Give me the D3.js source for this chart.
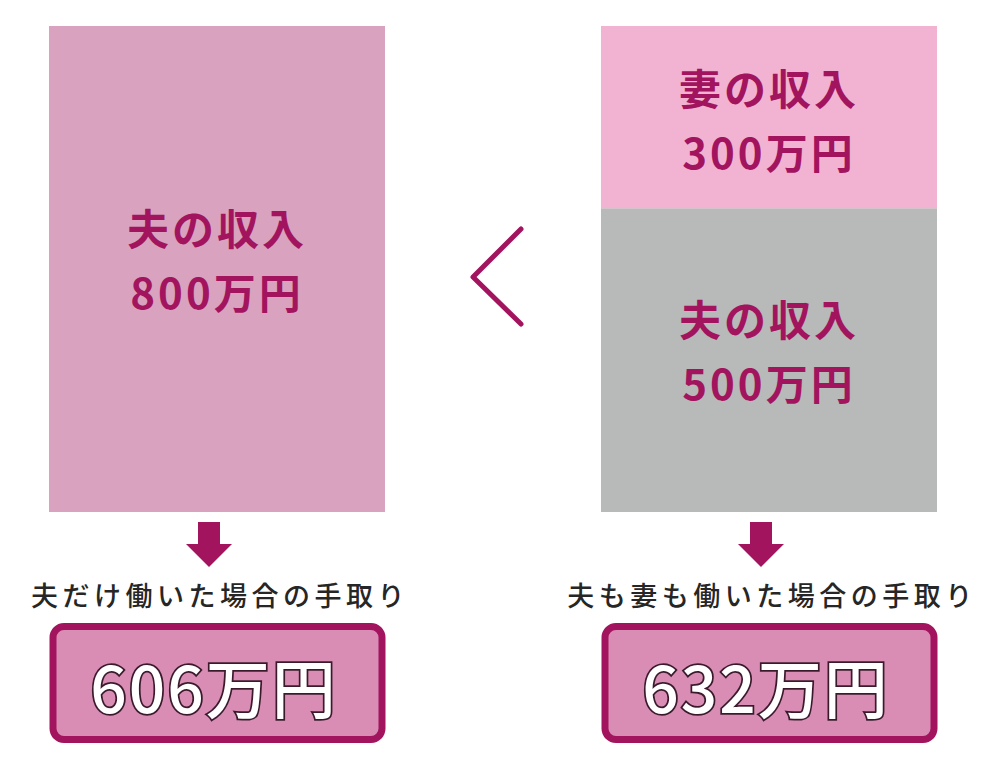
<!DOCTYPE html>
<html lang="ja">
<head>
<meta charset="UTF-8">
<title>手取り比較</title>
<script src="https://d3js.org/d3.v7.min.js"></script>
<style>
  body { margin: 0; background: #fff; }
  svg { display: block; font-family: "Noto Sans CJK JP", "Noto Sans", sans-serif; }
  .seg-label { fill: #a3145f; font-weight: 700; font-size: 42px; text-anchor: middle; letter-spacing: 3px; }
  .caption { fill: #262626; font-weight: 500; font-size: 27px; text-anchor: middle; letter-spacing: 4.5px; }
  .total { fill: #fff; stroke: #3b1a2c; stroke-width: 3.5px; paint-order: stroke; font-weight: 500; font-size: 64px; text-anchor: middle; letter-spacing: 2px; }
</style>
</head>
<body>
<svg width="989" height="765"></svg>
<script>
// data
const cases = ["夫だけ", "夫も妻も"];
const husbandIncome = [800, 500];
const wifeIncome = [0, 300];
const captions = ["夫だけ働いた場合の手取り", "夫も妻も働いた場合の手取り"];
const takeHome = [606, 632];

const svg = d3.select("svg");
const magenta = "#a3145f";

const rows = cases.map((c, i) => ({ key: c, husband: husbandIncome[i], wife: wifeIncome[i] }));
const stacked = d3.stack().keys(["husband", "wife"])(rows);

const x = d3.scaleBand().domain(cases).range([49, 937]).paddingInner(0.3913).paddingOuter(0);
const y = d3.scaleLinear().domain([0, 800]).range([512, 26]);

const fills = {
  husband: (d, i) => i === 0 ? "#d9a3bf" : "#b8b9b9",
  wife: () => "#f2b3d3"
};
const who = { husband: "夫の収入", wife: "妻の収入" };

stacked.forEach(layer => {
  const g = svg.append("g");
  layer.forEach((d, i) => {
    if (d[1] - d[0] <= 0) return;
    const x0 = x(d.data.key), bw = x.bandwidth();
    g.append("rect")
      .attr("x", x0).attr("y", y(d[1]))
      .attr("width", bw).attr("height", y(d[0]) - y(d[1]))
      .attr("fill", fills[layer.key](d, i));
    // label block sits a bit above the segment middle on the tall bars
    const mid = (y(d[0]) + y(d[1])) / 2 - (d[1] - d[0] >= 500 ? 12 : 0);
    const cx = x0 + bw / 2;
    g.append("text").attr("class", "seg-label")
      .attr("x", cx).attr("y", mid - 12)
      .text(who[layer.key]);
    g.append("text").attr("class", "seg-label")
      .attr("x", cx).attr("y", mid + 52)
      .text(d[1] - d[0] + "万円");
  });
});

// "<" between the bars, about level with the middle of the bars
const gapMid = (x("夫だけ") + x.bandwidth() + x("夫も妻も")) / 2;
const tipY = (y(0) + y(800)) / 2 + 8;
svg.append("path")
  .attr("d", d3.line()([[gapMid + 28, tipY - 48], [gapMid - 20, tipY], [gapMid + 28, tipY + 47]]))
  .attr("fill", "none").attr("stroke", magenta)
  .attr("stroke-width", 5).attr("stroke-linecap", "round").attr("stroke-linejoin", "round");

// down arrows, captions and result boxes
cases.forEach((c, i) => {
  const cx = x(c) + x.bandwidth() / 2;
  const ax = cx - 8;
  svg.append("path")
    .attr("d", `M${ax - 11},522 H${ax + 11} V544 H${ax + 23} L${ax},567 L${ax - 23},544 H${ax - 11} Z`)
    .attr("fill", magenta);

  svg.append("text").attr("class", "caption")
    .attr("x", cx + 3).attr("y", 606)
    .text(captions[i]);

  svg.append("rect")
    .attr("x", x(c) + 4).attr("y", 626.5)
    .attr("width", x.bandwidth() - 7).attr("height", 113)
    .attr("rx", 11)
    .attr("fill", "#d98db4").attr("stroke", magenta).attr("stroke-width", 7);

  svg.append("text").attr("class", "total")
    .attr("x", cx - 3).attr("y", 713)
    .text(takeHome[i] + "万円");
});
</script>
</body>
</html>
